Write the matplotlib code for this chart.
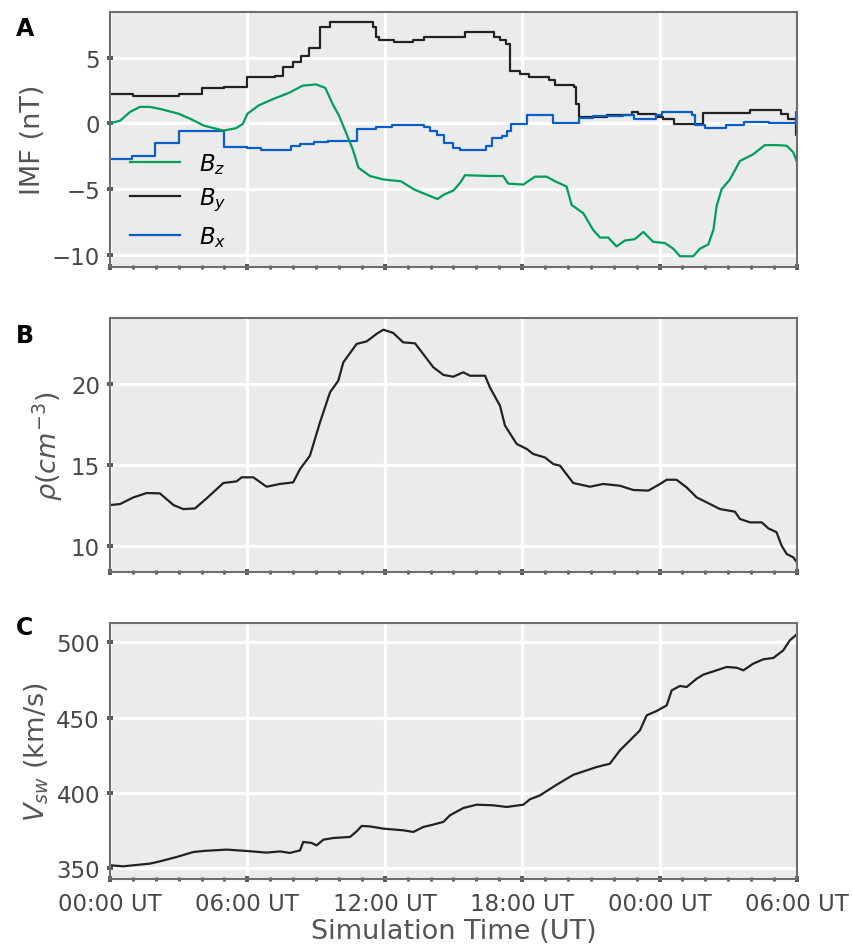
import matplotlib
matplotlib.use("Agg")
import matplotlib.pyplot as plt
import matplotlib.ticker as mticker

# hours since 00:00 UT of the first day
bz_hours = [0, 0.44, 0.87, 1.3, 1.75, 2.25, 3.0, 3.5, 4.1, 4.95, 5.5, 5.8, 6.0, 6.5, 7.1, 7.86,
            8.4, 9.0, 9.4, 9.75, 10.0, 10.3, 10.6, 10.85, 11.35, 11.95, 12.7, 13.3, 14.3, 14.6,
            15.0, 15.3, 15.5, 16.6, 17.17, 17.39, 18.05, 18.56, 19.07, 19.43, 19.94, 20.16,
            20.67, 21.1, 21.4, 21.76, 22.12, 22.49, 22.92, 23.29, 23.72, 24.24, 24.6, 24.89,
            25.47, 25.76, 26.13, 26.35, 26.49, 26.71, 27.07, 27.51, 28.09, 28.6, 29.11, 29.55,
            29.84, 30.0]
bz_nt = [0.0, 0.2, 0.86, 1.25, 1.25, 1.07, 0.73, 0.35, -0.17, -0.55, -0.37, -0.04, 0.73, 1.37,
         1.83, 2.35, 2.86, 2.96, 2.7, 1.37, 0.6, -0.68, -1.96, -3.37, -4.0, -4.27, -4.4, -5.04,
         -5.75, -5.4, -5.1, -4.5, -3.94, -4.0, -4.0, -4.58, -4.65, -4.05, -4.05, -4.4, -4.8,
         -6.2, -6.83, -8.1, -8.68, -8.68, -9.35, -8.9, -8.8, -8.25, -9.0, -9.1, -9.53, -10.1,
         -10.1, -9.53, -9.2, -8.1, -6.3, -5.0, -4.27, -2.86, -2.35, -1.65, -1.65, -1.7, -2.2,
         -2.94]

by_hours = [0, 1.0, 3.0, 4.0, 5.0, 6.0, 7.2, 7.55, 8.0, 8.35, 8.7, 9.15, 9.6, 11.5, 11.6,
            11.75, 12.4, 13.25, 13.7, 14.25, 15.5, 16.75, 17.05, 17.3, 17.45, 17.9, 18.3,
            19.15, 19.45, 20.25, 20.35, 20.5, 21.7, 22.8, 23.05, 23.85, 24.15, 24.65, 25.9,
            27.95, 29.3, 29.6, 29.95, 30.0]
by_nt = [2.25, 2.1, 2.2, 2.65, 2.8, 3.5, 3.6, 4.3, 4.7, 5.1, 5.7, 7.3, 7.7, 7.3, 6.6,
         6.35, 6.15, 6.35, 6.55, 6.6, 6.95, 6.6, 6.3, 6.0, 4.0, 3.75, 3.5,
         3.3, 2.9, 2.8, 1.5, 0.45, 0.6, 0.9, 0.7, 0.45, 0.3, -0.05, 0.8,
         1.0, 0.7, 0.35, -0.9, -0.9]

bx_hours = [0, 0.95, 1.97, 3.0, 3.96, 5.0, 6.0, 6.6, 7.9, 8.3, 8.9, 9.5, 10.8, 11.6, 12.3,
            13.7, 13.97, 14.3, 14.6, 15.0, 15.3, 16.4, 16.7, 17.1, 17.35, 17.5, 18.2, 19.35,
            20.5, 21.1, 22.4, 22.9, 23.85, 24.1, 25.4, 25.55, 26.0, 26.9, 27.7, 28.8, 29.95, 30.0]
bx_nt = [-2.7, -2.45, -1.5, -0.55, -0.6, -1.8, -1.85, -2.0, -1.75, -1.6, -1.45, -1.35, -0.4,
         -0.3, -0.15, -0.3, -0.6, -0.9, -1.5, -1.85, -2.0, -1.7, -1.1, -0.95, -0.55, -0.05,
         0.6, 0.0, 0.4, 0.55, 0.65, 0.3, 0.6, 0.9, 0.6, -0.15, -0.33, -0.12, 0.1, 0.0, 0.9, 0.9]

rho_hours = [0, 0.44, 1.02, 1.6, 2.18, 2.77, 3.2, 3.71, 4.22, 4.95, 5.53, 5.75, 6.26, 6.84,
             7.42, 8.0, 8.3, 8.73, 9.17, 9.61, 9.97, 10.19, 10.77, 11.21, 11.64, 11.94, 12.37,
             12.8, 13.32, 14.12, 14.56, 14.99, 15.43, 15.72, 16.38, 16.59, 17.03, 17.25, 17.76,
             18.2, 18.48, 18.99, 19.36, 19.65, 20.23, 20.96, 21.54, 22.27, 22.85, 23.51, 24.02,
             24.31, 24.74, 25.18, 25.62, 26.05, 26.64, 27.29, 27.51, 27.95, 28.46, 28.75, 29.11,
             29.33, 29.55, 29.84, 30.0]
rho_cm3 = [12.53, 12.59, 13.0, 13.27, 13.25, 12.53, 12.28, 12.32, 12.94, 13.89, 13.99, 14.24,
           14.24, 13.66, 13.83, 13.93, 14.75, 15.57, 17.63, 19.49, 20.2, 21.34, 22.47, 22.63,
           23.09, 23.35, 23.15, 22.57, 22.51, 21.03, 20.56, 20.45, 20.72, 20.51, 20.51, 19.79,
           18.66, 17.43, 16.3, 15.99, 15.68, 15.47, 15.06, 14.96, 13.89, 13.66, 13.83, 13.72,
           13.46, 13.42, 13.83, 14.09, 14.09, 13.62, 13.0, 12.7, 12.28, 12.12, 11.67, 11.46,
           11.46, 11.09, 10.85, 10.02, 9.51, 9.3, 8.99]

v_hours = [0, 0.58, 1.02, 1.75, 2.18, 2.91, 3.64, 4.08, 5.09, 5.97, 6.84, 7.42, 7.86, 8.3,
           8.44, 8.81, 9.02, 9.32, 9.75, 10.48, 10.77, 10.99, 11.35, 11.94, 12.81, 13.25,
           13.68, 14.12, 14.56, 14.85, 15.43, 16.01, 16.74, 17.32, 18.05, 18.34, 18.78, 19.51,
           20.24, 20.82, 21.25, 21.83, 22.27, 22.71, 23.14, 23.44, 23.87, 24.31, 24.53, 24.89,
           25.18, 25.62, 25.91, 26.49, 26.93, 27.37, 27.66, 28.09, 28.53, 28.97, 29.4, 29.69,
           29.91, 30.0]
v_kms = [352.0, 351.3, 352.0, 353.1, 354.6, 357.5, 360.8, 361.5, 362.4, 361.5, 360.4, 361.2,
         360.2, 361.9, 367.5, 366.8, 365.2, 369.0, 370.1, 370.8, 374.5, 378.1, 377.8, 376.3,
         375.2, 374.1, 377.4, 379.0, 380.8, 385.2, 390.0, 392.2, 391.8, 390.7, 392.2, 395.8,
         398.4, 405.5, 412.1, 415.0, 417.2, 419.4, 428.3, 434.9, 441.5, 451.5, 454.4, 458.1,
         468.1, 471.0, 470.3, 475.8, 478.5, 481.4, 483.6, 483.1, 481.4, 485.8, 488.7, 489.6,
         494.6, 501.3, 504.2, 505.5]

hour_ticks = [0, 6, 12, 18, 24, 30]

GREEN = "#009E5C"
BLACK = "#222222"
BLUE = "#0A5EC4"
LW = 1.6


def style_axis(ax, ylim, yticks, show_xlabels=False):
    ax.set_facecolor("#EBEBEB")
    ax.set_xlim(0, 30)
    ax.set_ylim(*ylim)
    ax.set_yticks(yticks)
    ax.set_xticks(hour_ticks)
    ax.xaxis.set_minor_locator(mticker.MultipleLocator(1))
    ax.xaxis.set_major_formatter(
        mticker.FuncFormatter(lambda h, _: f"{int(round(h)) % 24:02d}:00 UT"))
    ax.grid(True, which="major", color="white", lw=2.3)
    ax.set_axisbelow(True)
    for sp in ax.spines.values():
        sp.set_color("#6E6E6E")
        sp.set_linewidth(1.5)
    ax.tick_params(which="major", direction="inout", length=4.5, width=2.8,
                   color="#555555", labelsize=16.5, labelcolor="#474747")
    ax.tick_params(axis="x", which="minor", direction="inout", length=3, width=2,
                   color="#555555")
    ax.tick_params(axis="x", pad=7, labelbottom=show_xlabels)
    ax.tick_params(axis="y", pad=5)


fig = plt.figure(figsize=(8.52, 9.45), dpi=100)
ax_a = fig.add_axes([0.1291, 0.7169, 0.8063, 0.2693])
ax_b = fig.add_axes([0.1291, 0.3937, 0.8063, 0.2687])
ax_c = fig.add_axes([0.1291, 0.0688, 0.8063, 0.2709])

# A: IMF components
line_by, = ax_a.step(by_hours, by_nt, where="post", color=BLACK, lw=LW, label="$B_y$")
line_bx, = ax_a.step(bx_hours, bx_nt, where="post", color=BLUE, lw=LW, label="$B_x$")
line_bz, = ax_a.plot(bz_hours, bz_nt, color=GREEN, lw=LW, label="$B_z$")
style_axis(ax_a, (-10.88, 8.46), [-10, -5, 0, 5])
ax_a.set_ylabel("IMF (nT)", fontsize=19.5, color="#555555")
ax_a.legend(handles=[line_bz, line_by, line_bx], loc="upper left",
            bbox_to_anchor=(0.029, 0.455), frameon=False, fontsize=16.5,
            handlelength=2.2, handletextpad=0.8, labelspacing=0.45,
            borderpad=0, borderaxespad=0)

# B: density
ax_b.plot(rho_hours, rho_cm3, color=BLACK, lw=LW)
style_axis(ax_b, (8.4, 24.07), [10, 15, 20])
ax_b.set_ylabel(r"$\rho(cm^{-3})$", fontsize=19.5, color="#555555")

# C: solar wind speed
ax_c.plot(v_hours, v_kms, color=BLACK, lw=LW)
style_axis(ax_c, (342.9, 512.8), [350, 400, 450, 500], show_xlabels=True)
ax_c.set_ylabel(r"$V_{sw}$ (km/s)", fontsize=19.5, color="#555555")
ax_c.set_xlabel("Simulation Time (UT)", fontsize=19.5, color="#555555", labelpad=2)

for letter, ypos in [("A", 0.982), ("B", 0.657), ("C", 0.348)]:
    fig.text(0.019, ypos, letter, fontsize=17, fontweight="bold", va="top", ha="left")

fig.savefig("out.png", dpi=100)
